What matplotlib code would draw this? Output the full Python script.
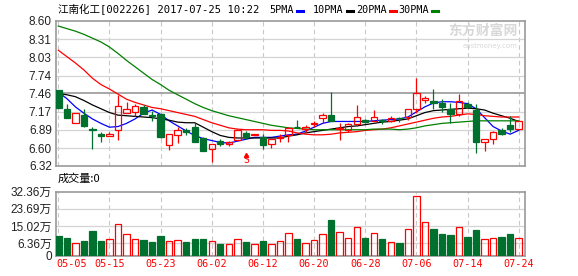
import numpy as np
import matplotlib.pyplot as plt

# daily candles 05-05 .. 07-24 (55 bars)
opens  = [7.51, 7.22, 6.99, 7.12, 6.90, 6.83, 6.79, 6.89, 7.16, 7.17,
          7.25, 7.12, 7.13, 6.65, 6.80, 6.89, 6.93, 6.76, 6.58, 6.71,
          6.66, 6.73, 6.84, 6.81, 6.78, 6.66, 6.76, 6.81, 6.94, 6.90,
          6.98, 7.07, 7.12, 6.90, 6.89, 6.98, 7.05, 7.03, 7.04, 7.02,
          7.08, 7.09, 7.21, 7.35, 7.34, 7.31, 7.21, 7.14, 7.29, 7.20,
          6.69, 6.74, 6.89, 6.96, 6.90]
closes = [7.23, 7.08, 7.15, 6.95, 6.89, 6.79, 6.83, 7.27, 7.22, 7.26,
          7.14, 7.11, 6.77, 6.82, 6.89, 6.85, 6.70, 6.56, 6.66, 6.67,
          6.70, 6.89, 6.78, 6.82, 6.65, 6.74, 6.77, 6.92, 6.93, 6.93,
          6.99, 7.12, 7.03, 6.91, 6.98, 7.09, 7.01, 7.09, 7.03, 7.08,
          7.07, 7.21, 7.46, 7.39, 7.31, 7.24, 7.14, 7.34, 7.24, 6.69,
          6.74, 6.86, 6.83, 6.90, 7.02]
highs  = [7.52, 7.29, 7.16, 7.22, 6.93, 6.85, 6.86, 7.44, 7.32, 7.30,
          7.28, 7.19, 7.15, 6.83, 6.94, 6.92, 6.99, 6.77, 6.66, 6.74,
          6.72, 6.90, 6.87, 6.83, 6.82, 6.75, 6.83, 6.93, 7.04, 6.97,
          7.02, 7.16, 7.49, 6.99, 6.99, 7.28, 7.06, 7.20, 7.06, 7.10,
          7.09, 7.22, 7.71, 7.42, 7.53, 7.38, 7.31, 7.45, 7.33, 7.29,
          6.75, 6.87, 6.91, 7.11, 7.04]
lows   = [7.23, 7.07, 6.99, 6.94, 6.58, 6.70, 6.79, 6.73, 7.16, 7.11,
          7.14, 7.03, 6.76, 6.57, 6.68, 6.81, 6.70, 6.55, 6.39, 6.64,
          6.64, 6.72, 6.74, 6.80, 6.58, 6.61, 6.70, 6.70, 6.91, 6.86,
          6.94, 7.00, 7.02, 6.73, 6.86, 6.95, 6.99, 7.02, 6.98, 7.01,
          7.01, 7.04, 7.16, 7.31, 7.21, 7.17, 7.00, 7.11, 7.23, 6.53,
          6.55, 6.67, 6.80, 6.86, 6.89]

# moving averages
ma5  = [7.48, 7.38, 7.25, 7.15, 7.06, 6.99, 6.93, 6.94, 6.99, 7.06,
        7.15, 7.20, 7.13, 7.03, 6.95, 6.87, 6.80, 6.75, 6.72, 6.69,
        6.68, 6.71, 6.74, 6.77, 6.77, 6.77, 6.79, 6.81, 6.82, 6.87,
        6.93, 6.99, 7.02, 7.02, 7.02, 7.02, 7.02, 7.03, 7.04, 7.05,
        7.06, 7.09, 7.17, 7.25, 7.31, 7.33, 7.33, 7.32, 7.30, 7.22,
        7.08, 6.94, 6.87, 6.82, 6.88]
ma10 = [7.46, 7.44, 7.41, 7.35, 7.28, 7.22, 7.16, 7.12, 7.11, 7.10,
        7.09, 7.08, 7.06, 7.04, 7.01, 7.00, 7.00, 6.93, 6.86, 6.80,
        6.77, 6.76, 6.76, 6.76, 6.76, 6.76, 6.76, 6.79, 6.81, 6.84,
        6.86, 6.88, 6.90, 6.92, 6.94, 6.95, 6.97, 6.99, 7.01, 7.02,
        7.04, 7.06, 7.11, 7.16, 7.19, 7.20, 7.21, 7.22, 7.23, 7.22,
        7.20, 7.15, 7.11, 7.07, 7.02]
ma20 = [8.14, 8.04, 7.94, 7.83, 7.70, 7.60, 7.53, 7.45, 7.37, 7.32,
        7.28, 7.24, 7.22, 7.19, 7.16, 7.13, 7.10, 7.05, 7.00, 6.96,
        6.92, 6.90, 6.89, 6.89, 6.89, 6.88, 6.88, 6.87, 6.84, 6.82,
        6.81, 6.81, 6.82, 6.84, 6.85, 6.86, 6.88, 6.89, 6.90, 6.92,
        6.95, 6.98, 7.01, 7.04, 7.07, 7.09, 7.10, 7.12, 7.14, 7.13,
        7.11, 7.10, 7.09, 7.09, 7.09]
ma30 = [8.52, 8.48, 8.44, 8.39, 8.33, 8.27, 8.19, 8.09, 7.98, 7.88,
        7.78, 7.68, 7.60, 7.51, 7.44, 7.37, 7.30, 7.24, 7.19, 7.15,
        7.11, 7.08, 7.05, 7.02, 6.99, 6.96, 6.94, 6.92, 6.91, 6.90,
        6.89, 6.89, 6.89, 6.89, 6.89, 6.89, 6.89, 6.90, 6.90, 6.90,
        6.89, 6.90, 6.92, 6.95, 6.97, 6.99, 7.00, 7.01, 7.02, 7.03,
        7.03, 7.03, 7.03, 7.03, 7.03]

# volume in 万
volume = [10.1, 9.1, 6.3, 7.4, 12.5, 7.4, 8.4, 15.9, 10.8, 8.4,
          7.9, 7.1, 10.1, 7.4, 7.9, 7.1, 8.4, 8.4, 7.4, 6.1,
          6.1, 8.4, 7.1, 6.1, 7.4, 6.1, 7.4, 11.3, 8.4, 6.3,
          7.8, 10.8, 18.0, 11.8, 8.8, 14.3, 8.9, 11.3, 8.4, 7.1,
          6.3, 13.3, 30.0, 17.2, 13.5, 11.0, 10.5, 14.3, 9.4, 13.0,
          8.3, 8.8, 9.4, 11.1, 9.1]

date_labels = ['05-05', '05-15', '05-23', '06-02', '06-12',
               '06-20', '06-28', '07-06', '07-14', '07-24']
price_ticks = [8.60, 8.31, 8.03, 7.74, 7.46, 7.17, 6.89, 6.60, 6.32]
vol_ticks = [0, 6.36, 15.02, 23.69, 32.36]
vol_labels = ['0', '6.36万', '15.02万', '23.69万', '32.36万']

RED = '#ff0000'
GREEN = '#00702e'
GRID = '#d4d4d4'
FRAME = '#999999'

o = np.array(opens); c = np.array(closes)
h = np.array(highs); l = np.array(lows)
x = np.arange(len(o))
up = c >= o
date_pos = np.arange(0, len(o), 6)

fig = plt.figure(figsize=(5.78, 2.76), dpi=100)
ax = fig.add_axes([0.0969, 0.3986, 0.8114, 0.5254])
axv = fig.add_axes([0.0969, 0.0736, 0.8114, 0.2319])

for a in (ax, axv):
    a.set_xlim(-0.27, 54.74)
    for s in a.spines.values():
        s.set_color(FRAME)
        s.set_linewidth(1.2)
    for p in date_pos:
        a.axvline(p, color='#c8c8c8', lw=0.8, ls=(0, (4, 3)), zorder=0)
    a.tick_params(length=0, pad=3)
    a.set_xticks([])

# main price panel
ax.set_ylim(6.32, 8.60)
ax.set_yticks(price_ticks)
ax.set_yticklabels(['%.2f' % t for t in price_ticks],
                   fontsize=8.5, family='Liberation Sans', color='#222222')
for t in price_ticks[1:-1]:
    ax.axhline(t, color='#a0a0a0' if t == 7.46 else GRID,
               lw=1.3 if t == 7.46 else 0.9, zorder=0)

ax.plot(x, ma5, color='#0000ff', lw=0.9, zorder=2)
ax.plot(x, ma10, color='black', lw=0.9, zorder=2)
ax.plot(x, ma20, color=RED, lw=0.9, zorder=2)
ax.plot(x, ma30, color='#008000', lw=0.9, zorder=2)

w = 0.75
bot = np.minimum(o, c)
top = np.maximum(o, c)
hgt = np.maximum(top - bot, 0.008)
cols = np.where(up, RED, GREEN)
ax.vlines(x, l, bot, colors=cols, lw=0.9, zorder=3)
ax.vlines(x, top, h, colors=cols, lw=0.9, zorder=3)
ax.bar(x[up], hgt[up], bottom=bot[up], width=w, facecolor='none',
       edgecolor=RED, lw=0.9, zorder=4)
ax.bar(x[~up], hgt[~up], bottom=bot[~up], width=w, facecolor=GREEN,
       edgecolor=GREEN, lw=0.9, zorder=4)

ax.text(22, 6.335, 'S', color=RED, fontsize=7, ha='center', va='bottom',
        family='DejaVu Sans Mono', clip_on=False)
ax.plot([22], [6.50], marker='^', ms=3, color=RED, clip_on=False)

# watermark
ax.text(0.985, 0.93, '东方财富网', transform=ax.transAxes, ha='right', va='center',
        fontsize=10, color='#d8d8d8', family='Noto Sans CJK SC', fontweight='bold')
ax.text(0.985, 0.83, 'eastmoney.com', transform=ax.transAxes, ha='right', va='center',
        fontsize=5, color='#d8d8d8', family='DejaVu Sans')

# volume panel
vol = np.array(volume)
axv.set_ylim(0, 32.36)
axv.set_yticks(vol_ticks)
axv.set_yticklabels(vol_labels, fontsize=8.5,
                    family=['Liberation Sans', 'Noto Sans CJK SC'], color='#222222')
for t in vol_ticks[1:-1]:
    axv.axhline(t, color=GRID, lw=0.9, zorder=0)
axv.bar(x[up], vol[up], width=w, facecolor='none', edgecolor=RED, lw=0.9, zorder=3)
axv.bar(x[~up], vol[~up], width=w, facecolor=GREEN, edgecolor=GREEN, lw=0.9, zorder=3)

for i, (p, lab) in enumerate(zip(date_pos, date_labels)):
    axv.text(p if i else -0.2, -4.3, lab, color=RED, fontsize=7.3,
             family='DejaVu Sans Mono', ha='left' if i == 0 else 'center', va='center')

# header texts
mono = ['DejaVu Sans Mono', 'Noto Sans CJK SC']
fig.text(58 / 578, 1 - 10 / 276, '江南化工[002226] 2017-07-25 10:22',
         fontsize=7.6, family=mono, va='center', ha='left')
legend = [('5PMA', '#0000ff', 269), ('10PMA', 'black', 313),
          ('20PMA', RED, 356), ('30PMA', '#008000', 398)]
for name, col, px in legend:
    t = fig.text(px / 578, 1 - 10 / 276, name, fontsize=7.3,
                 family='DejaVu Sans Mono', va='center', ha='left')
    ex = px + 6.2 * len(name) + 3
    fig.add_artist(plt.Line2D([ex / 578, (ex + 6) / 578],
                              [1 - 11 / 276, 1 - 11 / 276], color=col, lw=2.2))

fig.text(58 / 578, 1 - 179 / 276, '成交量:0', fontsize=8,
         family=['Noto Sans CJK SC', 'DejaVu Sans'], va='center', ha='left')

fig.savefig('out.png', dpi=100)
